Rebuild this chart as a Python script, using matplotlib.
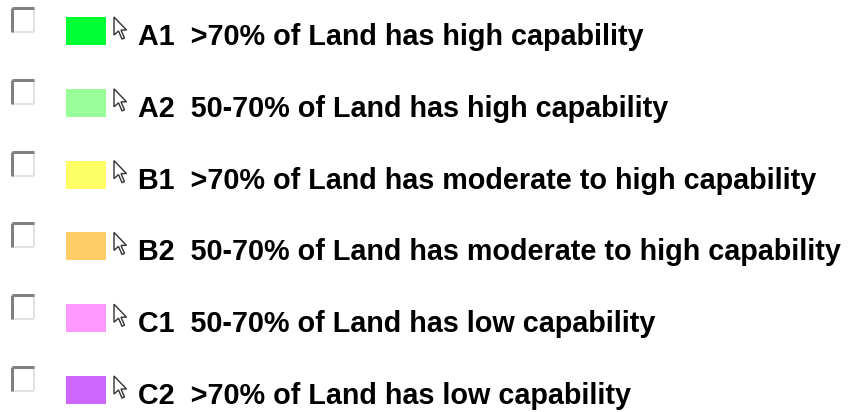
import matplotlib.pyplot as plt
from matplotlib.patches import Rectangle, Polygon

plt.rcParams['font.family'] = ['Liberation Sans', 'DejaVu Sans']

codes = ['A1', 'A2', 'B1', 'B2', 'C1', 'C2']
labels = [
    '>70% of Land has high capability',
    '50-70% of Land has high capability',
    '>70% of Land has moderate to high capability',
    '50-70% of Land has moderate to high capability',
    '50-70% of Land has low capability',
    '>70% of Land has low capability',
]
colors = ['#00ff33', '#99ff99', '#ffff66', '#ffcc66', '#ff99ff', '#cc66ff']

W, H = 858, 412
fig = plt.figure(figsize=(W / 100, H / 100), dpi=100)
ax = fig.add_axes([0, 0, 1, 1])
ax.set_xlim(0, W)
ax.set_ylim(H, 0)
ax.axis('off')

# mouse-pointer outline (pixel units, relative to tip)
arrow = [(0, 0), (0, 18), (4.5, 14), (8, 22), (10.5, 21), (7, 13), (12.5, 13)]
px = 0.72  # one pixel in points

row_h = 71.8
for i, (code, lab, col) in enumerate(zip(codes, labels, colors)):
    base = 45 + i * row_h  # text baseline

    # checkbox
    cy = base - 37
    ax.add_patch(Rectangle((12, cy), 22, 24, facecolor='white', edgecolor='none'))
    ax.plot([12, 34], [cy + 24, cy + 24], color='#e2e2e2', lw=2 * px, solid_capstyle='butt')
    ax.plot([34, 34], [cy, cy + 24], color='#e2e2e2', lw=2 * px, solid_capstyle='butt')
    ax.plot([12, 12], [cy + 24, cy], color='#808080', lw=3 * px, solid_capstyle='butt')
    ax.plot([12, 34], [cy, cy], color='#808080', lw=3 * px, solid_capstyle='butt')

    # colour swatch
    ax.add_patch(Rectangle((66, base - 28), 40, 28, facecolor=col, edgecolor='none'))

    # pointer icon
    pts = [(114 + x, base - 28 + y) for x, y in arrow]
    ax.add_patch(Polygon(pts, closed=True, facecolor='white', edgecolor='#333333',
                         lw=1.4 * px, joinstyle='miter'))

    ax.text(138, base, code + '  ' + lab, fontsize=20.7, fontweight='bold',
            color='black', ha='left', va='baseline')

fig.savefig('out.png', dpi=100)
